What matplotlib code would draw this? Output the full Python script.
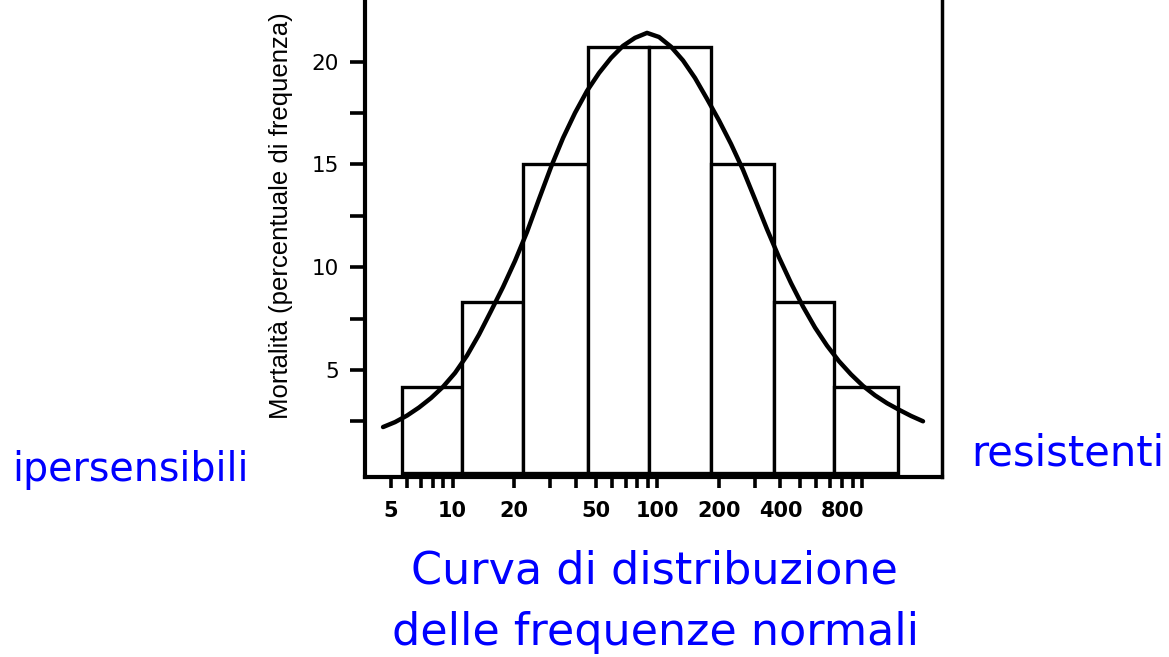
import matplotlib
matplotlib.use("Agg")
import matplotlib.pyplot as plt
from matplotlib.ticker import FixedLocator, NullFormatter

# histogram bins (dose, log scale) and frequency (%)
bin_edges = [5.66, 11.1, 22.1, 45.9, 91.1, 183, 372, 731, 1501]
freq = [4.2, 8.3, 15.0, 20.7, 20.7, 15.0, 8.3, 4.2]

# normal curve, points
curve_x = [4.57, 5.23, 5.99, 6.85, 7.84, 8.98, 10.27, 11.76, 13.46, 15.40,
           17.63, 20.18, 23.10, 26.44, 30.26, 34.64, 39.64, 45.38, 51.94,
           59.43, 68.03, 77.87, 89.13, 102.0, 116.7, 133.6, 152.9, 175.1,
           200.4, 229.3, 262.5, 300.4, 343.9, 393.7, 450.6, 515.6, 590.1,
           675.5, 773.3, 885.1, 1013, 1160, 1327, 1519, 1739, 1990]
curve_y = [2.23, 2.47, 2.79, 3.18, 3.64, 4.19, 4.86, 5.71, 6.73, 7.87,
           9.04, 10.31, 11.72, 13.32, 14.88, 16.29, 17.51, 18.58, 19.45,
           20.18, 20.77, 21.16, 21.40, 21.20, 20.73, 20.06, 19.21, 18.19,
           17.14, 16.00, 14.74, 13.31, 11.85, 10.48, 9.23, 8.09, 7.07,
           6.19, 5.43, 4.79, 4.23, 3.77, 3.39, 3.07, 2.77, 2.51]

x_labels = [5, 10, 20, 50, 100, 200, 400, 800]
x_minor = [6, 7, 8, 9, 30, 40, 60, 70, 80, 90, 300, 500, 600, 700, 900, 1000]
y_labels = [5, 10, 15, 20]
y_minor = [2.5, 7.5, 12.5, 17.5]

W, H = 1169, 657
fig = plt.figure(figsize=(W / 100, H / 100), dpi=100)
ax = fig.add_axes([365 / W, 1 - 477 / H, 577 / W, 477 / H])

widths = [b - a for a, b in zip(bin_edges[:-1], bin_edges[1:])]
ax.bar(bin_edges[:-1], freq, width=widths, align="edge", bottom=0,
       facecolor="white", edgecolor="black", linewidth=2.4)
ax.plot(curve_x, curve_y, color="black", linewidth=3.2, solid_capstyle="round",
        solid_joinstyle="round")

ax.set_xscale("log")
ax.set_xlim(3.73, 2464)
ax.set_ylim(-0.2, 23.0)

ax.xaxis.set_major_locator(FixedLocator(x_labels))
ax.xaxis.set_minor_locator(FixedLocator(x_minor))
ax.xaxis.set_minor_formatter(NullFormatter())
ax.set_xticklabels([str(v) for v in x_labels], fontsize=15, fontweight="bold",
                   family="DejaVu Sans")
ax.tick_params(axis="x", which="both", direction="out", length=8, width=2.6,
               pad=9)

ax.yaxis.set_major_locator(FixedLocator(y_labels))
ax.yaxis.set_minor_locator(FixedLocator(y_minor))
ax.set_yticklabels([str(v) for v in y_labels], fontsize=15.5,
                   family="DejaVu Sans")
ax.tick_params(axis="y", which="both", direction="out", length=11, width=2.6,
               pad=8)

ax.spines["top"].set_visible(False)
for s in ["left", "bottom"]:
    ax.spines[s].set_linewidth(3)
ax.spines["right"].set_linewidth(2.5)

fig.text(281 / W, 1 - 216 / H, "Mortalità (percentuale di frequenza)",
         rotation=90, ha="center", va="center", fontsize=18.5,
         family="Liberation Sans")

blue = "#0000ff"
fig.text(131 / W, 1 - 470 / H, "ipersensibili", color=blue, fontsize=28.5,
         ha="center", va="center", family="DejaVu Sans")
fig.text(1068 / W, 1 - 453 / H, "resistenti", color=blue, fontsize=30,
         ha="center", va="center", family="DejaVu Sans")
fig.text(654 / W, 1 - 571 / H, "Curva di distribuzione", color=blue,
         fontsize=32, ha="center", va="center", family="DejaVu Sans")
fig.text(656 / W, 1 - 633 / H, "delle frequenze normali", color=blue,
         fontsize=32, ha="center", va="center", family="DejaVu Sans")

fig.savefig("out.png", dpi=100)
